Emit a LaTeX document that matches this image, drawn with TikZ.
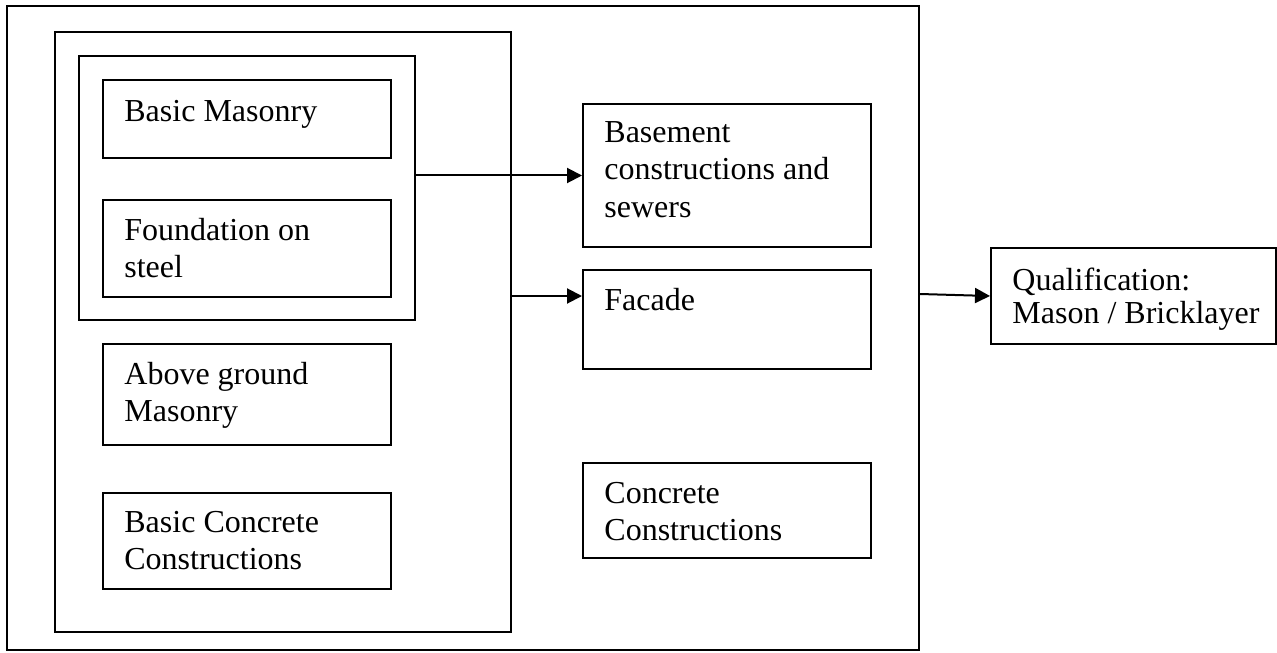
\documentclass[tikz,border=0pt]{standalone}
\usepackage{fontspec}
\setmainfont{Liberation Serif}
\usetikzlibrary{arrows.meta,fit}
\begin{document}
\begin{tikzpicture}[x=0.5pt,y=-0.5pt,
  box/.style={draw,line width=1pt,inner sep=0pt},
  txt/.style={anchor=base west,inner sep=0pt,font=\fontsize{16}{18.5}\selectfont},
  arr/.style={line width=1pt,-{Triangle[length=7.5pt,width=7.5pt]}}]
\useasboundingbox (0,0) rectangle (1277,652);
% boxes
\node[box,fit={(7,6) (919,650)}] (outer) {};
\node[box,fit={(55,32) (511,632)}] (inner) {};
\node[box,fit={(79,56) (415,320)}] (grp) {};
\node[box,fit={(103,80) (391,158)}] (bm) {};
\node[box,fit={(103,200) (391,297)}] (fos) {};
\node[box,fit={(103,344) (391,445)}] (agm) {};
\node[box,fit={(103,493) (391,589)}] (bcc) {};
\node[box,fit={(583,104) (871,247)}] (bas) {};
\node[box,fit={(583,270) (871,369)}] (fac) {};
\node[box,fit={(583,463) (871,558)}] (cc) {};
\node[box,fit={(991,248) (1276,344)}] (qual) {};
% texts
\node[txt] (bm-t) at (124,122) {Basic Masonry};
\node[txt] (fos-t) at (124,240) {\vtop{\hbox{Foundation on}\hbox{steel}}};
\node[txt] (agm-t) at (124,384) {\vtop{\hbox{Above ground}\hbox{Masonry}}};
\node[txt] (bcc-t) at (124,532) {\vtop{\hbox{Basic Concrete}\hbox{Constructions}}};
\node[txt] (bas-t) at (604,143) {\vtop{\hbox{Basement}\hbox{constructions and}\hbox{sewers}}};
\node[txt] (fac-t) at (604,310) {Facade};
\node[txt] (cc-t) at (604,503) {\vtop{\hbox{Concrete}\hbox{Constructions}}};
\node[txt,font=\fontsize{16}{16.5}\selectfont] (q-t) at (1012,290) {\vtop{\hbox{Qualification:}\hbox{Mason / Bricklayer}}};
% connectors
\coordinate (a2) at (0,296);
\coordinate (a3) at (0,294);
\draw[arr] (grp.east |- bas.west) -- (bas.west);
\draw[arr] (inner.east |- a2) -- (fac.west |- a2);
\draw[arr] (outer.east |- a3) -- (qual.west);
\end{tikzpicture}
\end{document}
